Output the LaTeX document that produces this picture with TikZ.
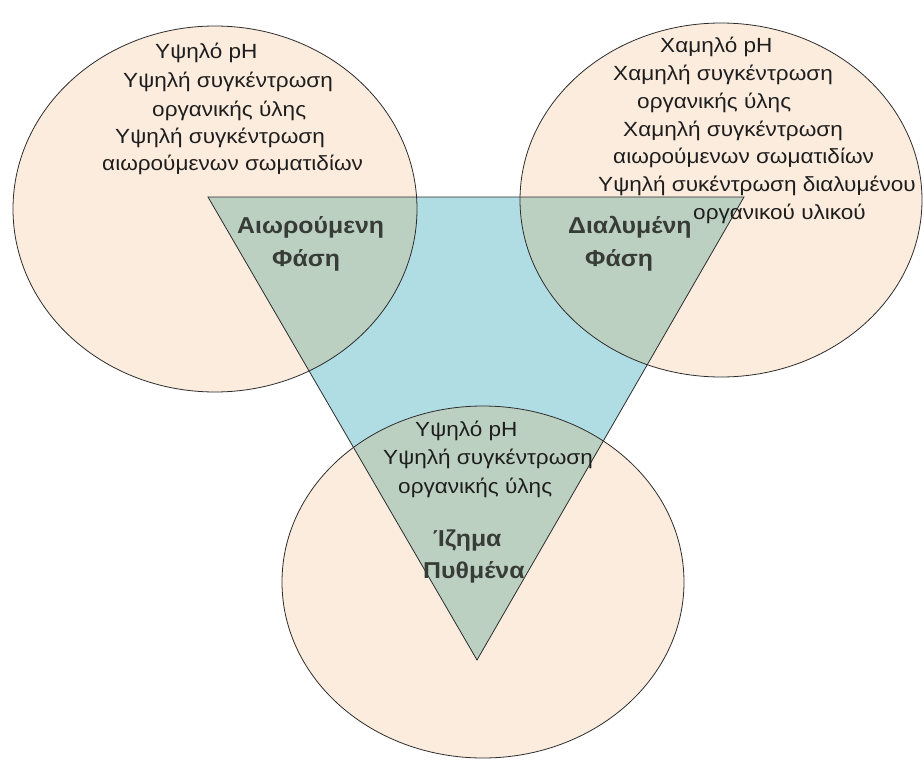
\documentclass[tikz,border=0pt]{standalone}
\usepackage{fontspec}
\setmainfont{Liberation Sans}
\definecolor{peach}{RGB}{252,236,222}
\definecolor{water}{RGB}{176,221,228}
\definecolor{mix}{RGB}{188,208,194}
\definecolor{edge}{RGB}{45,45,45}
\definecolor{ink}{RGB}{30,30,30}
\definecolor{boldink}{RGB}{55,60,55}
\begin{document}
\begin{tikzpicture}[x=1pt,y=-1pt,
  txt/.style={anchor=base west, inner sep=0pt, xscale=1.1, font=\fontsize{20.5}{24}\selectfont, text=ink},
  lbl/.style={anchor=base west, inner sep=0pt, xscale=1.08, font=\fontsize{23}{26}\selectfont\bfseries, text=boldink},
  outline/.style={draw=edge, line width=0.8pt}]
\useasboundingbox (0,0) rectangle (924,760);
\fill[white] (0,0) rectangle (924,760);
% shapes
\coordinate (TL) at (208,197);
\coordinate (TR) at (744,197);
\coordinate (TB) at (477,660);
\coordinate (cL) at (215,209);
\coordinate (cR) at (721,200);
\coordinate (cB) at (483,582);
\def\ellL{(cL) ellipse [x radius=202, y radius=183]}
\def\ellR{(cR) ellipse [x radius=201, y radius=177]}
\def\ellB{(cB) ellipse [x radius=201, y radius=176]}
\def\tri{(TL) -- (TR) -- (TB) -- cycle}
\fill[peach] \ellL;
\fill[peach] \ellR;
\fill[peach] \ellB;
\fill[water] \tri;
\begin{scope}\clip \ellL; \fill[mix] \tri; \end{scope}
\begin{scope}\clip \ellR; \fill[mix] \tri; \end{scope}
\begin{scope}\clip \ellB; \fill[mix] \tri; \end{scope}
\draw[outline] \ellL;
\draw[outline] \ellR;
\draw[outline] \ellB;
\draw[outline, line join=miter] \tri;
% left circle text
\node[txt] (L1) at (155,59) {Υψηλό pH};
\node[txt] (L2) at (123,88) {Υψηλή συγκέντρωση};
\node[txt] (L3) at (152,116) {οργανικής ύλης};
\node[txt] (L4) at (115,143) {Υψηλή συγκέντρωση};
\node[txt] (L5) at (102,170) {αιωρούμενων σωματιδίων};
% right circle text
\node[txt] (R1) at (660,53) {Χαμηλό pH};
\node[txt] (R2) at (613,81) {Χαμηλή συγκέντρωση};
\node[txt] (R3) at (637,108) {οργανικής ύλης};
\node[txt] (R4) at (623,136) {Χαμηλή συγκέντρωση};
\node[txt] (R5) at (613,163) {αιωρούμενων σωματιδίων};
\node[txt] (R6) at (598,191) {Υψηλή συκέντρωση διαλυμένου};
\node[txt] (R7) at (693,219) {οργανικού υλικού};
% bottom circle text
\node[txt] (B1) at (415,436) {Υψηλό pH};
\node[txt] (B2) at (383,464) {Υψηλή συγκέντρωση};
\node[txt] (B3) at (398,493) {οργανικής ύλης};
% phase labels
\node[lbl] (A1) at (237,233) {Αιωρούμενη};
\node[lbl] (A2) at (272,266) {Φάση};
\node[lbl] (D1) at (568,233) {Διαλυμένη};
\node[lbl] (D2) at (585,266) {Φάση};
\node[lbl] (S1) at (433,546) {Ίζημα};
\node[lbl] (S2) at (423,578) {Πυθμένα};
\end{tikzpicture}
\end{document}
